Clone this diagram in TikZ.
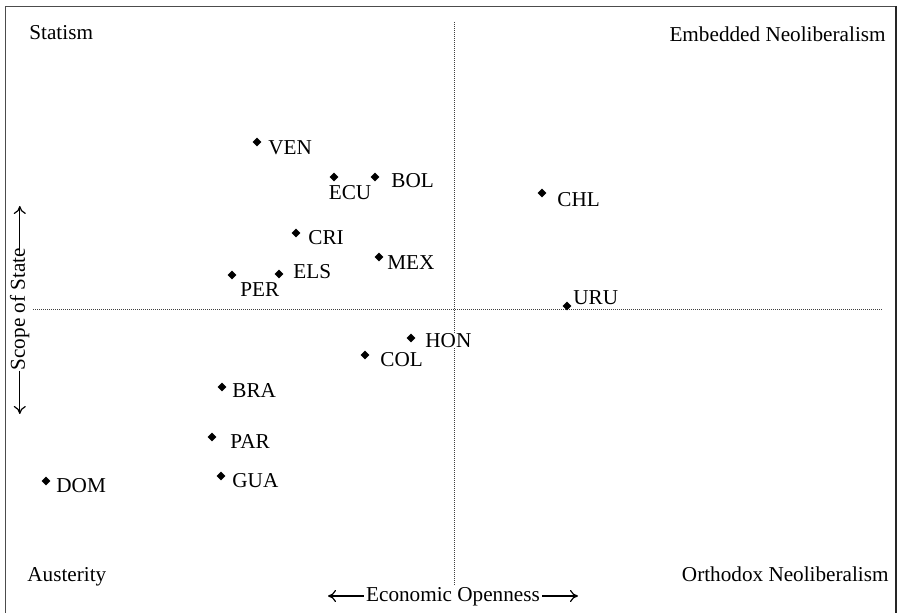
\documentclass[tikz,border=0pt]{standalone}
\usepackage{fontspec}
\setmainfont{Liberation Serif}
\usetikzlibrary{shapes.geometric,arrows.meta}
\begin{document}
\begin{tikzpicture}[x=0.5pt,y=-0.5pt,
  every node/.style={font=\fontsize{10.6}{12}\selectfont, inner sep=0pt},
  pt/.style={shape=diamond, fill=black, minimum width=4.6pt, minimum height=4.6pt, inner sep=0pt},
  lbl/.style={anchor=base west},
  framel/.style={line width=0.45pt, draw=black!70},
  axisline/.style={line width=0.4pt, draw=black!75, dash pattern=on 0.5pt off 0.5pt},
  arr/.style={-{To[length=4pt,width=6pt]}, line width=0.6pt}]
\useasboundingbox (0,0) rectangle (901,613);
% frame
\draw[framel] (5,613) -- (5,6) -- (896,6);
\draw[framel, line width=0.6pt, draw=black!85] (896,6) -- (896,613);
% quadrant axes
\coordinate (vtop) at (454,22);
\coordinate (vbot) at (454,585);
\coordinate (hl) at (33,309);
\coordinate (hr) at (883,309);
\draw[axisline] (vtop) -- (vbot);
\draw[axisline] (hl) -- (hr);
% quadrant labels
\node[anchor=base west] (statism) at (29,40) {Statism};
\node[anchor=base east] (embedded) at (886,42) {Embedded Neoliberalism};
\node[anchor=base west] (austerity) at (27,582) {Austerity};
\node[anchor=base east] (orthodox) at (889,582) {Orthodox Neoliberalism};
% axis titles
\node[anchor=base] (eo) at (453,602) {Economic Openness};
\coordinate (eoL) at (328,596);
\coordinate (eoR) at (578,596);
\draw[arr] ([xshift=-1pt]eo.west |- eoL) -- (eoL);
\draw[arr] ([xshift=1pt]eo.east |- eoR) -- (eoR);
\node[rotate=90, anchor=base] (sos) at (25,309) {Scope of State};
\coordinate (sosT) at (19,206);
\coordinate (sosB) at (19,414);
\draw[arr] ([yshift=-2pt]sos.east) -- (sos.east |- sosT);
\draw[arr] (sos.west) -- (sos.west |- sosB);
% countries
\node[pt] (dVEN) at (257,142) {};
\node[lbl] (lVEN) at (268,155) {VEN};
\node[pt] (dECU) at (334,177) {};
\node[anchor=base] (lECU) at (350,200) {ECU};
\node[pt] (dBOL) at (375,177) {};
\node[lbl] (lBOL) at (391,188) {BOL};
\node[pt] (dCHL) at (542,193) {};
\node[lbl] (lCHL) at (557,207) {CHL};
\node[pt] (dCRI) at (296,233) {};
\node[lbl] (lCRI) at (308,245) {CRI};
\node[pt] (dMEX) at (379,257) {};
\node[lbl] (lMEX) at (387,270) {MEX};
\node[pt] (dELS) at (279,274) {};
\node[lbl] (lELS) at (293,279) {ELS};
\node[pt] (dPER) at (232,275) {};
\node[lbl] (lPER) at (240,297) {PER};
\node[pt] (dURU) at (567,306) {};
\node[lbl] (lURU) at (573,305) {URU};
\node[pt] (dHON) at (411,338) {};
\node[lbl, fill=white, inner xsep=1pt] (lHON) at (423,348) {HON};
\node[pt] (dCOL) at (365,355) {};
\node[lbl] (lCOL) at (380,367) {COL};
\node[pt] (dBRA) at (222,387) {};
\node[lbl] (lBRA) at (232,398) {BRA};
\node[pt] (dPAR) at (212,437) {};
\node[lbl] (lPAR) at (230,449) {PAR};
\node[pt] (dGUA) at (221,476) {};
\node[lbl] (lGUA) at (232,488) {GUA};
\node[pt] (dDOM) at (46,481) {};
\node[lbl] (lDOM) at (56,493) {DOM};
\end{tikzpicture}
\end{document}
